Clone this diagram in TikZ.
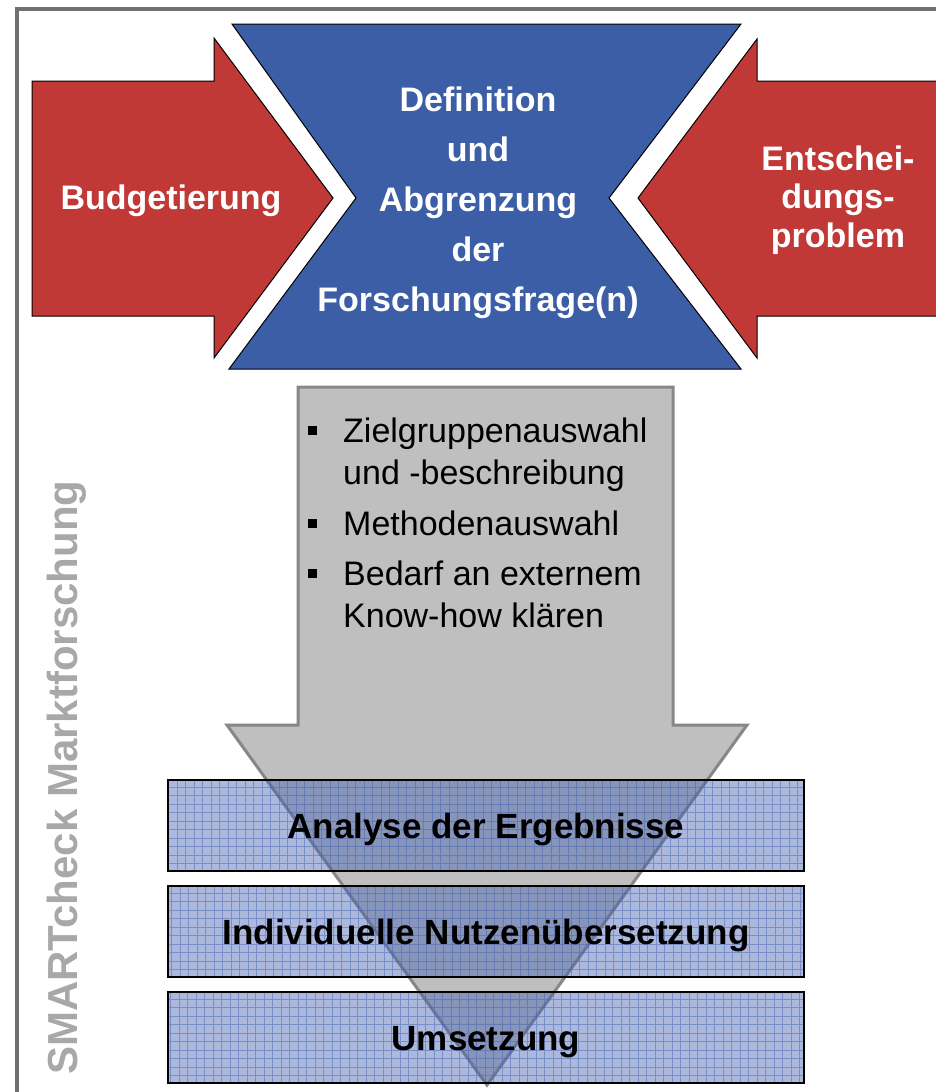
\documentclass[tikz,border=0pt]{standalone}
\usepackage{fontspec}
\setmainfont{Liberation Sans}
\usetikzlibrary{positioning}

\definecolor{arrowred}{RGB}{193,57,55}
\definecolor{frageblue}{RGB}{59,94,166}
\definecolor{stepgray}{RGB}{191,191,191}
\definecolor{stepline}{RGB}{135,135,135}
\definecolor{framegray}{RGB}{112,112,112}
\definecolor{labelgray}{RGB}{168,168,168}
\definecolor{barblue}{RGB}{70,100,180}

\tikzset{
  inarrow/.style={fill=arrowred, draw=black, line width=1pt},
  headtext/.style={text=white, font=\bfseries\fontsize{34}{38.5}\selectfont, align=center, inner sep=0pt},
  itemtext/.style={font=\fontsize{34}{41.5}\selectfont, align=left, inner sep=0pt, anchor=base west},
  bullet/.style={fill=black, minimum size=9pt, inner sep=0pt},
  phase/.style={draw=black, line width=2pt, fill=barblue, fill opacity=0.45, text opacity=1,
    minimum width=636pt, minimum height=91pt, text height=25pt, text depth=0pt,
    font=\bfseries\fontsize{35}{40}\selectfont,
    path picture={\draw[barblue, step=8.5pt, line width=0.7pt, draw opacity=0.5]
      (path picture bounding box.south west) grid (path picture bounding box.north east);}},
}

\begin{document}
\begin{tikzpicture}[x=1pt, y=-1pt]
  \useasboundingbox (0,0) rectangle (936,1092);
  \clip (0,0) rectangle (936,1092);
  \draw[framegray, line width=3.5pt] (17,9) rectangle (960,1120);

  \draw[inarrow] (32,81) -- (214,81) -- (214,38) -- (333,198) -- (214,358) -- (214,316) -- (32,316) -- cycle;
  \draw[inarrow] (960,81) -- (757,81) -- (757,39) -- (638,198) -- (757,358) -- (757,316) -- (960,316) -- cycle;
  \draw[fill=frageblue, line width=1pt] (232,24) -- (741,24) -- (609,198) -- (741,369) -- (229,369) -- (356,198) -- cycle;

  \node[headtext] (budget) at (171,201) {Budgetierung};
  \node[headtext, font=\bfseries\fontsize{34}{50}\selectfont] (frage) at (478,203)
    {Definition\\und\\Abgrenzung\\der\\Forschungsfrage(n)};
  \node[headtext] (problem) at (838,200) {Entschei-\\dungs-\\problem};

  \node[text=labelgray, font=\bfseries\fontsize{42}{42}\selectfont, rotate=90, anchor=base, inner sep=0pt]
    (smart) at (77,777.5) {SMARTcheck Marktforschung};

  \draw[fill=stepgray, draw=stepline, line width=3pt] (298,387) -- (673,387) -- (673,725) -- (747,725)
    -- (487,1085) -- (227,725) -- (298,725) -- cycle;

  % base of a two-line node is its last line
  \node[itemtext] (ziel) at (343,484) {Zielgruppenauswahl\\und -beschreibung};
  \node[itemtext] (methode) at (343,535) {Methodenauswahl};
  \node[itemtext] (bedarf) at (343,627) {Bedarf an externem\\Know-how klären};
  \foreach \n/\k in {ziel/1,methode/0,bedarf/1}
    \node[bullet] (b-\n) at ([xshift=-30.5pt, yshift={12pt+\k*41.5pt}]\n.base west) {};

  \node[phase] (analyse) at (486,825.5) {Analyse der Ergebnisse};
  \node[phase, below=13pt of analyse] (nutzen) {Individuelle Nutzenübersetzung};
  \node[phase, below=13pt of nutzen] (umsetzung) {Umsetzung};
\end{tikzpicture}
\end{document}
